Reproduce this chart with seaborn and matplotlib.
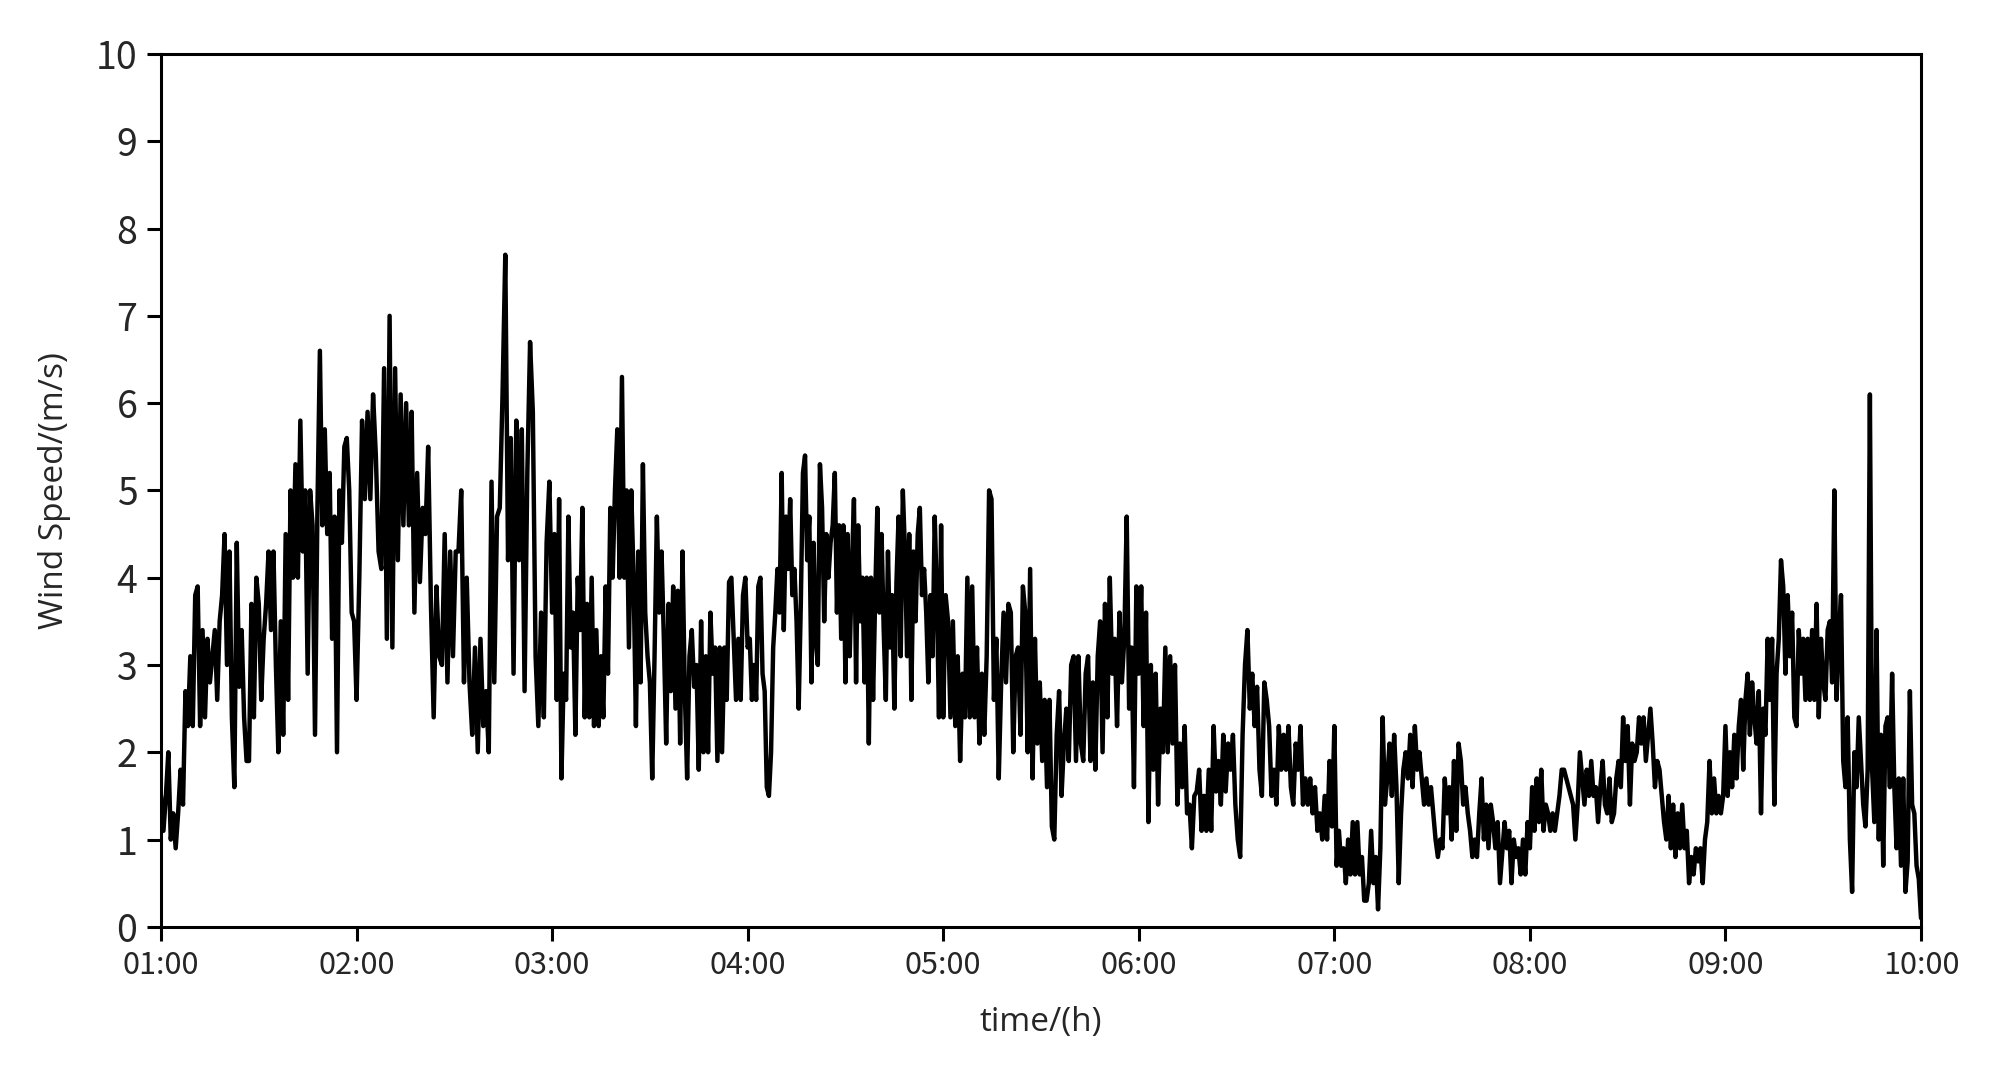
import numpy as np
import pandas as pd
import matplotlib
matplotlib.use('Agg')
import matplotlib.pyplot as plt
import seaborn as sns

# wind speed readings (m/s), one list per hour
h01 = [1.5, 1.1, 1.5, 2.0, 1.0, 1.3, 0.9, 1.3, 1.8, 1.4, 2.7, 2.3, 3.1, 2.3, 3.8, 3.9, 2.3, 3.4, 2.4, 3.3,
       2.8, 3.1, 3.4, 2.6, 3.5, 3.8, 4.5, 3.0, 4.3, 2.4, 1.6, 4.4, 2.75, 3.4, 2.4, 1.9, 1.9, 3.7, 2.4, 4.0,
       3.7, 2.6, 3.3, 3.7, 4.3, 3.4, 4.3, 3.0, 2.0, 3.5, 2.2, 4.5, 2.6, 5.0, 4.0, 5.3, 4.0, 5.8, 4.3, 5.0,
       2.9, 5.0, 4.6, 2.2, 4.8, 6.6, 4.6, 5.7, 4.5, 5.2, 3.3, 4.7, 2.0, 5.0, 4.4, 5.5, 5.6, 5.0, 3.6, 3.5]
h02 = [2.6, 4.0, 5.8, 4.9, 5.9, 4.9, 6.1, 5.4, 4.3, 4.1, 6.4, 3.3, 7.0, 3.2, 6.4, 4.2, 6.1, 4.6, 6.0, 4.6,
       5.9, 3.6, 5.2, 3.95, 4.8, 4.5, 5.5, 3.7, 2.4, 3.9, 3.1, 3.0, 4.5, 2.8, 4.3, 3.1, 4.3, 4.3, 5.0, 2.8,
       4.0, 2.8, 2.2, 3.2, 2.0, 3.3, 2.3, 2.7, 2.0, 5.1, 2.8, 4.7, 4.8, 6.1, 7.7, 4.2, 5.6, 2.9, 5.8, 4.2,
       5.7, 2.7, 5.2, 6.7, 5.9, 3.1, 2.3, 3.6, 2.4, 4.4, 5.1]
h03 = [3.6, 4.5, 2.6, 4.9, 1.7, 2.9, 2.6, 4.7, 3.2, 3.6, 2.2, 4.0, 3.4, 4.8, 2.4, 3.7, 2.4, 4.0, 2.3, 3.4,
       2.3, 3.1, 2.4, 3.9, 2.9, 4.8, 4.0, 5.0, 5.7, 4.0, 6.3, 4.0, 5.0, 3.2, 5.0, 4.0, 2.3, 4.3, 2.8, 5.3,
       3.6, 3.1, 2.8, 1.7, 3.1, 4.7, 3.6, 4.3, 3.3, 2.1, 3.7, 2.7, 3.9, 2.5, 3.85, 2.1, 4.3, 2.7, 1.7, 3.1,
       3.4, 2.75, 3.0, 1.8, 3.5, 2.0, 3.1, 2.0, 3.6, 2.9, 3.2, 1.9, 3.2, 2.0, 3.2, 2.6, 3.95, 4.0, 3.3, 2.6,
       3.3, 2.6, 3.8, 4.0]
h04 = [3.2, 3.3, 2.6, 3.0, 2.6, 3.9, 4.0, 2.9, 2.7, 1.6, 1.5, 2.0, 3.2, 3.6, 4.1, 3.6, 5.2, 3.4, 4.7, 4.1,
       4.9, 3.8, 4.1, 3.5, 2.5, 3.7, 5.2, 5.4, 4.2, 4.7, 2.8, 4.4, 3.3, 3.0, 5.3, 4.8, 3.5, 4.5, 4.0, 4.4,
       4.6, 5.2, 3.6, 4.6, 3.3, 4.6, 2.8, 4.5, 3.1, 4.1, 4.9, 2.8, 4.6, 3.5, 4.0, 2.8, 4.0, 2.1, 4.0, 2.6,
       3.8, 4.8, 3.6, 4.5, 3.4, 2.6, 4.3, 3.2, 3.8, 2.5, 3.95, 4.7, 3.1, 5.0, 4.3, 3.1, 4.5, 2.6, 4.3, 3.5,
       4.5, 4.8, 3.8, 4.1, 3.6, 2.8, 3.8, 3.1, 4.7, 3.8, 2.4, 4.6]
h05 = [2.4, 3.8, 3.5, 2.4, 3.5, 2.3, 3.1, 1.9, 2.9, 2.4, 4.0, 2.4, 3.9, 2.4, 3.2, 2.1, 2.9, 2.2, 3.1, 5.0,
       4.9, 2.6, 3.3, 1.7, 2.8, 3.6, 2.8, 3.7, 3.6, 2.0, 3.1, 3.2, 2.2, 3.9, 3.6, 2.0, 4.1, 1.7, 3.3, 2.1,
       2.8, 1.9, 2.6, 1.6, 2.6, 1.15, 1.0, 2.2, 2.7, 1.5, 2.1, 2.5, 1.9, 3.0, 3.1, 1.9, 3.1, 2.1, 1.9, 2.9,
       3.1, 1.9, 2.8, 1.8, 3.1, 3.5, 2.0, 3.7, 2.4, 4.0, 2.9, 3.3, 2.3, 3.6, 2.8, 3.3, 4.7, 2.5, 3.2, 1.6,
       3.9]
h06 = [2.9, 3.9, 2.3, 3.6, 1.2, 3.0, 1.8, 2.9, 1.4, 2.5, 2.0, 3.2, 2.0, 3.1, 2.1, 3.0, 1.4, 2.1, 1.6, 2.3,
       1.3, 1.4, 0.9, 1.5, 1.55, 1.8, 1.1, 1.5, 1.1, 1.8, 1.1, 2.3, 1.55, 1.9, 1.4, 2.2, 1.55, 2.1, 1.8, 2.2,
       1.4, 1.0, 0.8, 2.2, 3.0, 3.4, 2.5, 2.9, 2.3, 2.75, 1.8, 1.5, 2.8, 2.6, 2.3, 1.5, 1.8, 1.4, 2.3, 1.8,
       2.2, 1.8, 2.3, 1.6, 1.4, 2.1, 1.8, 2.3, 1.4, 1.7, 1.4, 1.7, 1.3, 1.6, 1.1, 1.3, 1.0, 1.5, 1.0, 1.9,
       1.15]
h07 = [2.3, 0.7, 1.1, 0.7, 0.9, 0.5, 1.0, 0.6, 1.2, 0.6, 1.2, 0.6, 0.8, 0.3, 0.3, 0.5, 1.1, 0.5, 0.8, 0.2,
       0.9, 2.4, 1.4, 1.7, 2.1, 1.5, 2.2, 1.6, 0.5, 1.3, 1.8, 2.0, 1.7, 2.2, 1.6, 2.3, 1.8, 2.0, 1.7, 1.4,
       1.7, 1.4, 1.6, 1.3, 1.0, 0.8, 1.0, 0.9, 1.7, 1.3, 1.6, 1.0, 1.9, 1.1, 2.1, 1.9, 1.4, 1.6, 1.3, 1.1,
       0.8, 1.0, 0.8, 1.3, 1.7, 1.0, 1.4, 0.9, 1.4, 1.2, 0.9, 1.2, 0.5, 0.85, 1.2, 0.9, 1.1, 0.5, 1.0, 0.8,
       0.9, 0.6, 1.0, 0.6, 1.2]
h08 = [0.9, 1.6, 1.1, 1.7, 1.2, 1.8, 1.1, 1.4, 1.3, 1.1, 1.3, 1.1, 1.3, 1.5, 1.8, 1.8, 1.7, 1.6, 1.5, 1.4,
       1.0, 1.4, 2.0, 1.7, 1.4, 1.8, 1.5, 1.9, 1.5, 1.6, 1.2, 1.6, 1.9, 1.4, 1.3, 1.7, 1.2, 1.3, 1.7, 1.9,
       1.6, 2.4, 1.9, 2.3, 1.4, 2.1, 1.9, 2.0, 2.4, 2.1, 2.4, 1.9, 2.2, 2.5, 2.1, 1.6, 1.9, 1.8, 1.5, 1.2,
       1.0, 1.5, 0.9, 1.4, 0.8, 1.3, 0.9, 1.4, 0.9, 1.1, 0.5, 0.8, 0.6, 0.9, 0.75, 0.9, 0.5, 1.0, 1.2, 1.9,
       1.3, 1.7, 1.3, 1.5, 1.3, 1.5]
h09 = [2.3, 1.5, 2.0, 1.6, 2.2, 1.7, 2.3, 2.6, 1.8, 2.6, 2.9, 2.2, 2.8, 2.4, 2.1, 2.7, 1.3, 2.5, 2.2, 3.3,
       2.6, 3.3, 1.4, 2.9, 3.3, 4.2, 3.9, 2.9, 3.8, 3.1, 3.6, 2.4, 2.3, 3.4, 2.9, 3.3, 2.6, 3.3, 2.6, 3.4,
       2.6, 3.7, 2.4, 3.3, 2.8, 2.6, 3.4, 3.5, 2.8, 5.0, 2.6, 3.3, 3.8, 1.9, 1.6, 2.4, 1.0, 0.4, 2.0, 1.6,
       2.4, 1.9, 1.4, 1.15, 1.8, 6.1, 1.8, 1.2, 3.4, 1.0, 2.2, 0.7, 2.3, 2.4, 1.6, 2.9, 1.6, 0.9, 1.7, 0.7,
       1.7, 0.4, 0.75, 2.7, 1.4, 1.3, 0.7, 0.55, 0.1]

hours = [h01, h02, h03, h04, h05, h06, h07, h08, h09]
tick_hours = list(range(1, 11))
tick_labels = ['%02d:00' % h for h in tick_hours]

# spread each hour's readings over that hour
t, v = [], []
for i, vals in enumerate(hours):
    start = i + 1
    if i == len(hours) - 1:
        tt = np.linspace(start, start + 1, len(vals))
    else:
        tt = start + np.arange(len(vals)) / len(vals)
    t.extend(tt)
    v.extend(vals)
df = pd.DataFrame({'time': t, 'speed': v})

sns.set_style('ticks')
plt.rcParams['font.family'] = ['Noto Sans CJK JP', 'DejaVu Sans']

fig, ax = plt.subplots(figsize=(10, 5.345), dpi=200)
fig.subplots_adjust(left=0.0805, right=0.9605, top=0.9495, bottom=0.133)

sns.lineplot(data=df, x='time', y='speed', color='black', linewidth=1.6, ax=ax)

ax.set_xlim(1, 10)
ax.set_ylim(0, 10)
ax.set_xticks(tick_hours)
ax.set_xticklabels(tick_labels, fontsize=11)
ax.set_yticks(range(0, 11))
ax.tick_params(axis='y', labelsize=13.5)
ax.tick_params(width=1.1, length=5, direction='out', color='black')
for s in ax.spines.values():
    s.set_visible(True)
    s.set_linewidth(1.1)
    s.set_color('black')

ax.set_xlabel('time/(h)', fontsize=12, family='Open Sans', labelpad=9)
ax.set_ylabel('Wind Speed/(m/s)', fontsize=12, family='Open Sans', labelpad=9)

plt.savefig('out.png', dpi=200)
